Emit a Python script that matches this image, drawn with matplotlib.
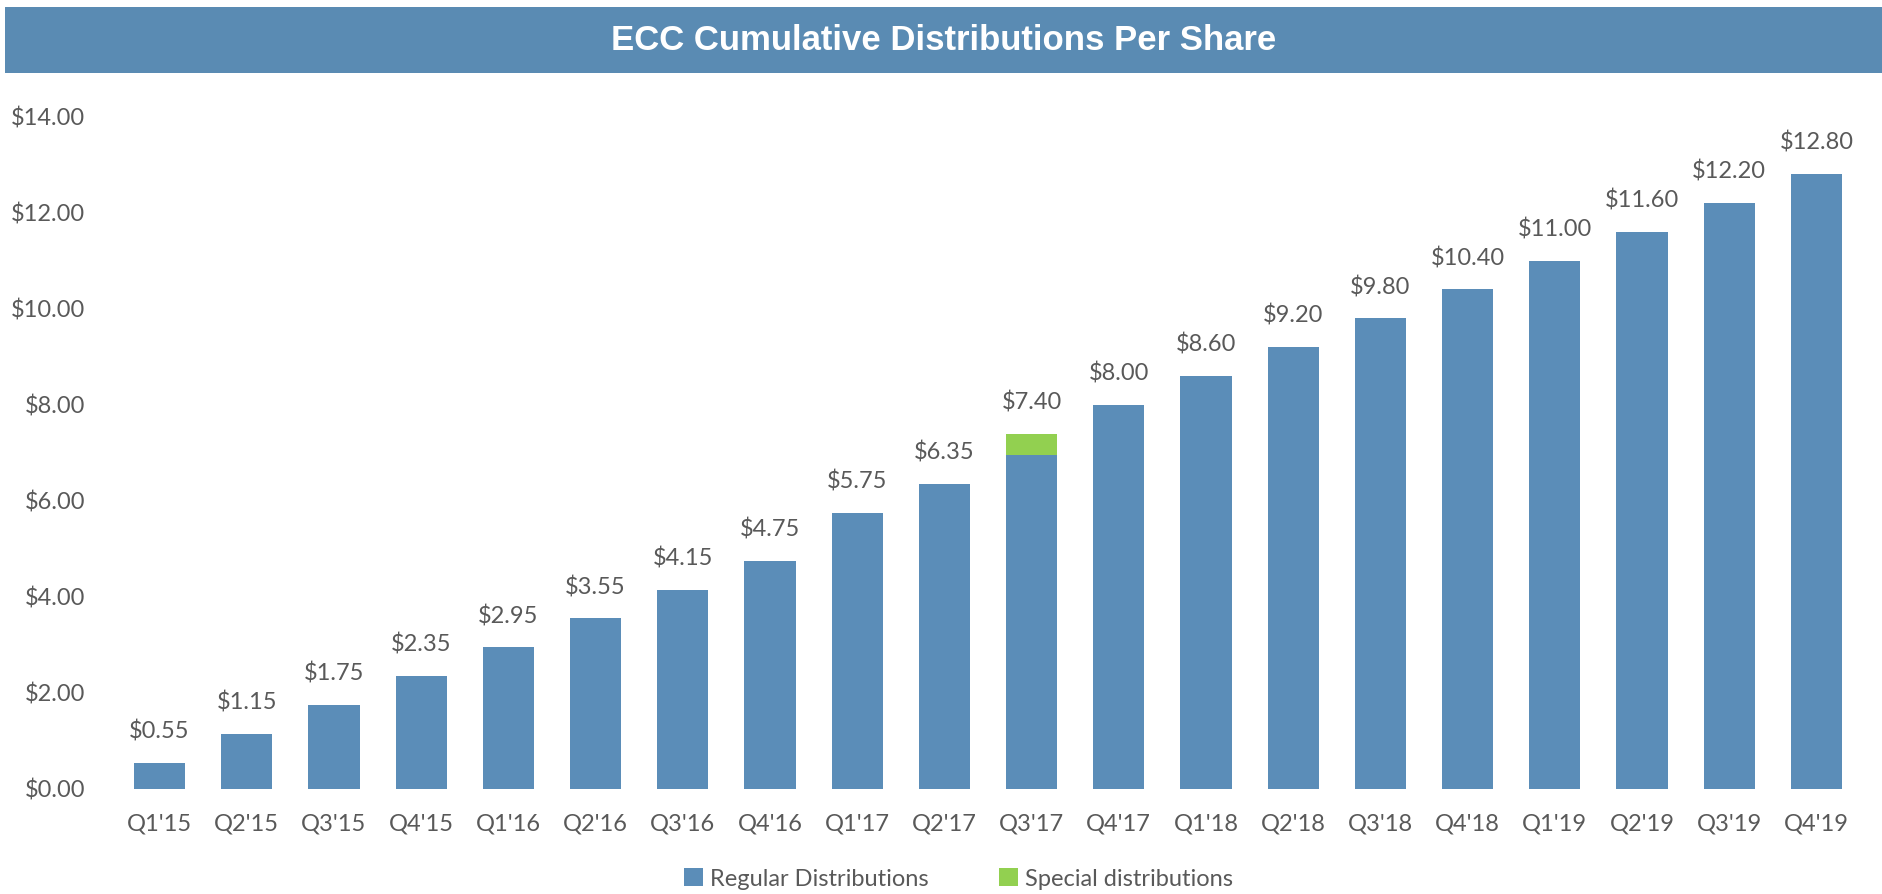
import matplotlib.pyplot as plt
import numpy as np
from matplotlib.patches import Rectangle

quarters = ["Q1'15", "Q2'15", "Q3'15", "Q4'15", "Q1'16", "Q2'16", "Q3'16", "Q4'16",
            "Q1'17", "Q2'17", "Q3'17", "Q4'17", "Q1'18", "Q2'18", "Q3'18", "Q4'18",
            "Q1'19", "Q2'19", "Q3'19", "Q4'19"]
regular = [0.55, 1.15, 1.75, 2.35, 2.95, 3.55, 4.15, 4.75, 5.75, 6.35,
           6.95, 8.00, 8.60, 9.20, 9.80, 10.40, 11.00, 11.60, 12.20, 12.80]
special = [0, 0, 0, 0, 0, 0, 0, 0, 0, 0,
           0.45, 0, 0, 0, 0, 0, 0, 0, 0, 0]
yticks = [0, 2, 4, 6, 8, 10, 12, 14]

BLUE = '#5B8DB8'
GREEN = '#92D050'
GRAY = '#595959'

plt.rcParams['font.family'] = ['Lato', 'DejaVu Sans']

W, H = 1883, 894
fig = plt.figure(figsize=(W / 100, H / 100), dpi=100)

# title band
band = fig.add_axes([5 / W, 1 - 73 / H, 1 - 5 / W, 66 / H])
band.set_axis_off()
band.add_patch(Rectangle((0, 0), 1, 1, color='#5A8BB3', transform=band.transAxes))
band.text(0.5, 0.5, 'ECC Cumulative Distributions Per Share', color='white',
          fontsize=25, fontweight='bold', family='Liberation Sans',
          ha='center', va='center', transform=band.transAxes)

ax = fig.add_axes([116 / W, (H - 789) / H, 1744 / W, (789 - 116.5) / H])
x = np.arange(len(quarters))
totals = np.array(regular) + np.array(special)
ax.bar(x, regular, width=0.585, color=BLUE, label='Regular Distributions')
ax.bar(x, special, width=0.585, bottom=regular, color=GREEN, label='Special distributions')

for xi, t in zip(x, totals):
    ax.text(xi, t + 0.42, f'${t:.2f}', ha='center', va='bottom', color=GRAY, fontsize=17)

ax.set_xlim(-0.5, len(quarters) - 0.5)
ax.set_ylim(0, 14)
ax.set_xticks(x)
ax.set_xticklabels(quarters)
ax.set_yticks(yticks)
ax.set_yticklabels([f'${v:.2f}' for v in yticks])
ax.tick_params(length=0, labelsize=17, labelcolor=GRAY)
ax.tick_params(axis='x', pad=18)
ax.tick_params(axis='y', pad=22)
for s in ax.spines.values():
    s.set_visible(False)

handles, labels = ax.get_legend_handles_labels()
fig.legend(handles, labels, loc='center', bbox_to_anchor=(0.509, 1 - 879 / H), ncol=2,
           frameon=False, fontsize=17, labelcolor=GRAY, handlelength=0.8,
           handleheight=0.8, handletextpad=0.3, columnspacing=3.0)

fig.savefig('out.png', dpi=100)
